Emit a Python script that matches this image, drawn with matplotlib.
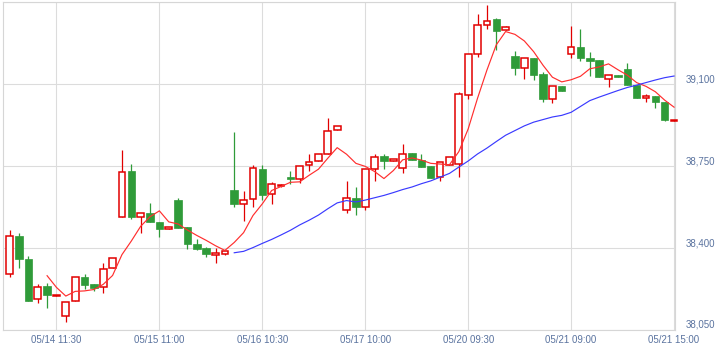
import numpy as np
import matplotlib.pyplot as plt
from matplotlib.transforms import ScaledTranslation

plt.rcParams['font.family'] = ['Liberation Sans', 'DejaVu Sans']

# 30-minute candles
opens = [38289, 38451, 38352, 38181, 38238, 38197, 38110, 38174, 38276, 38245,
         38232, 38313, 38531, 38729, 38531, 38551, 38511, 38483, 38605, 38488,
         38416, 38400, 38370, 38374, 38648, 38587, 38608, 38737, 38630, 38665,
         38702, 38697, 38753, 38770, 38801, 38904, 38562, 38612, 38574, 38736,
         38793, 38773, 38740, 38808, 38776, 38750, 38702, 38754, 38761, 39053,
         39231, 39352, 39377, 39333, 39219, 39171, 39214, 39143, 39039, 39091,
         39231, 39259, 39214, 39202, 39124, 39138, 39167, 39096, 39043, 39049,
         39024, 38941]
highs = [38477, 38463, 38366, 38246, 38249, 38200, 38168, 38275, 38289, 38245,
         38335, 38356, 38818, 38761, 38548, 38593, 38511, 38490, 38615, 38488,
         38440, 38405, 38401, 38388, 38896, 38645, 38753, 38754, 38683, 38672,
         38730, 38751, 38801, 38801, 38955, 38921, 38687, 38659, 38736, 38801,
         38801, 38781, 38844, 38808, 38800, 38750, 38768, 38787, 39067, 39231,
         39402, 39437, 39385, 39347, 39241, 39214, 39214, 39152, 39091, 39091,
         39348, 39338, 39238, 39202, 39138, 39138, 39191, 39096, 39057, 39049,
         39024, 38946]
lows = [38276, 38313, 38175, 38164, 38143, 38196, 38085, 38174, 38224, 38216,
        38209, 38313, 38531, 38524, 38463, 38510, 38446, 38483, 38487, 38394,
        38391, 38360, 38335, 38372, 38574, 38515, 38574, 38605, 38587, 38663,
        38673, 38676, 38730, 38770, 38801, 38904, 38548, 38541, 38562, 38687,
        38736, 38773, 38719, 38776, 38747, 38700, 38686, 38754, 38704, 39035,
        39216, 39338, 39248, 39331, 39138, 39124, 39117, 39022, 39018, 39070,
        39214, 39199, 39134, 39129, 39088, 39131, 39096, 39043, 39024, 39000,
        38943, 38941]
closes = [38451, 38352, 38175, 38232, 38201, 38199, 38168, 38275, 38243, 38231,
          38309, 38356, 38723, 38531, 38548, 38510, 38482, 38490, 38487, 38416,
          38397, 38373, 38377, 38386, 38587, 38605, 38740, 38628, 38672, 38670,
          38696, 38751, 38768, 38801, 38902, 38921, 38612, 38574, 38736, 38790,
          38773, 38781, 38804, 38776, 38747, 38700, 38768, 38787, 39060, 39231,
          39352, 39370, 39327, 39345, 39169, 39214, 39141, 39036, 39091, 39070,
          39257, 39214, 39199, 39129, 39138, 39131, 39096, 39043, 39049, 39022,
          38949, 38946]

# moving averages as drawn (short = red, long = blue), they end on the last candle
ma_short = [38282, 38232, 38195, 38215, 38217, 38223, 38245, 38283, 38372, 38430,
            38493, 38534, 38559, 38512, 38503, 38477, 38454, 38433, 38410, 38390,
            38424, 38466, 38539, 38589, 38646, 38663, 38681, 38683, 38711, 38737,
            38784, 38829, 38801, 38762, 38749, 38727, 38697, 38731, 38777, 38785,
            38776, 38762, 38759, 38756, 38812, 38909, 39040, 39160, 39268, 39325,
            39313, 39285, 39239, 39181, 39130, 39110, 39119, 39134, 39166, 39174,
            39187, 39162, 39139, 39107, 39091, 39068, 39032, 39002]
ma_long = [38380, 38386, 38402, 38420, 38437, 38456, 38476, 38499, 38519, 38541,
           38568, 38593, 38603, 38597, 38605, 38615, 38625, 38637, 38650, 38661,
           38675, 38687, 38703, 38719, 38746, 38772, 38802, 38827, 38855, 38882,
           38902, 38922, 38938, 38949, 38960, 38967, 38980, 39005, 39030, 39045,
           39059, 39073, 39086, 39096, 39107, 39118, 39128, 39135]

time_labels = ['05/14 11:30', '05/15 11:00', '05/16 10:30', '05/17 10:00',
               '05/20 09:30', '05/21 09:00', '05/21 15:00']
time_label_idx = [5, 16, 27, 38, 49, 60, 71]
price_ticks = [38050, 38400, 38750, 39100]

RED = '#e10000'
GREEN = '#2f9b39'
label_col = '#5a739f'

o = np.array(opens)
h = np.array(highs)
l = np.array(lows)
c = np.array(closes)
x = np.arange(len(c))
up = c >= o

fig = plt.figure(figsize=(7.25, 3.54), dpi=100)
ax = fig.add_axes([0.00455, 0.0678, 0.9258, 0.9257])

# wicks first, bodies on top (white fill hides wick inside hollow candles)
ax.vlines(x[up], l[up], h[up], colors=RED, linewidth=0.9, zorder=2, clip_on=False)
ax.vlines(x[~up], l[~up], h[~up], colors=GREEN, linewidth=0.9, zorder=2, clip_on=False)
ax.bar(x[up], c[up] - o[up], bottom=o[up], width=0.72, facecolor='white',
       edgecolor=RED, linewidth=1.1, zorder=3, clip_on=False)
ax.bar(x[~up], c[~up] - o[~up], bottom=o[~up], width=0.8, facecolor=GREEN,
       edgecolor=GREEN, linewidth=0.5, zorder=3, clip_on=False)

ax.plot(x[-len(ma_short):], ma_short, color='#ff2e2e', linewidth=0.85, zorder=4)
ax.plot(x[-len(ma_long):], ma_long, color='#3a3aff', linewidth=0.85, zorder=4)

ax.set_xlim(-0.68, 71.05)
ax.set_ylim(38050, 39450)

ax.set_xticks(time_label_idx)
ax.set_xticklabels(time_labels)
ax.yaxis.tick_right()
ax.set_yticks(price_ticks + [39450])
ax.set_yticklabels([f'{v:,}' for v in price_ticks] + [''])

ax.set_axisbelow(True)
ax.grid(True, color='#dcdcdc', linewidth=0.8)
for s in ax.spines.values():
    s.set_color('#d6d6d6')
    s.set_linewidth(0.8)

ax.tick_params(axis='both', length=0, labelsize=7, labelcolor=label_col)
ax.tick_params(axis='x', pad=3.5)
ax.tick_params(axis='y', pad=8.3)

shift = ScaledTranslation(0, 6 / 100, fig.dpi_scale_trans)
for lbl in ax.get_yticklabels():
    lbl.set_transform(lbl.get_transform() + shift)

fig.savefig('out.png', dpi=100)
